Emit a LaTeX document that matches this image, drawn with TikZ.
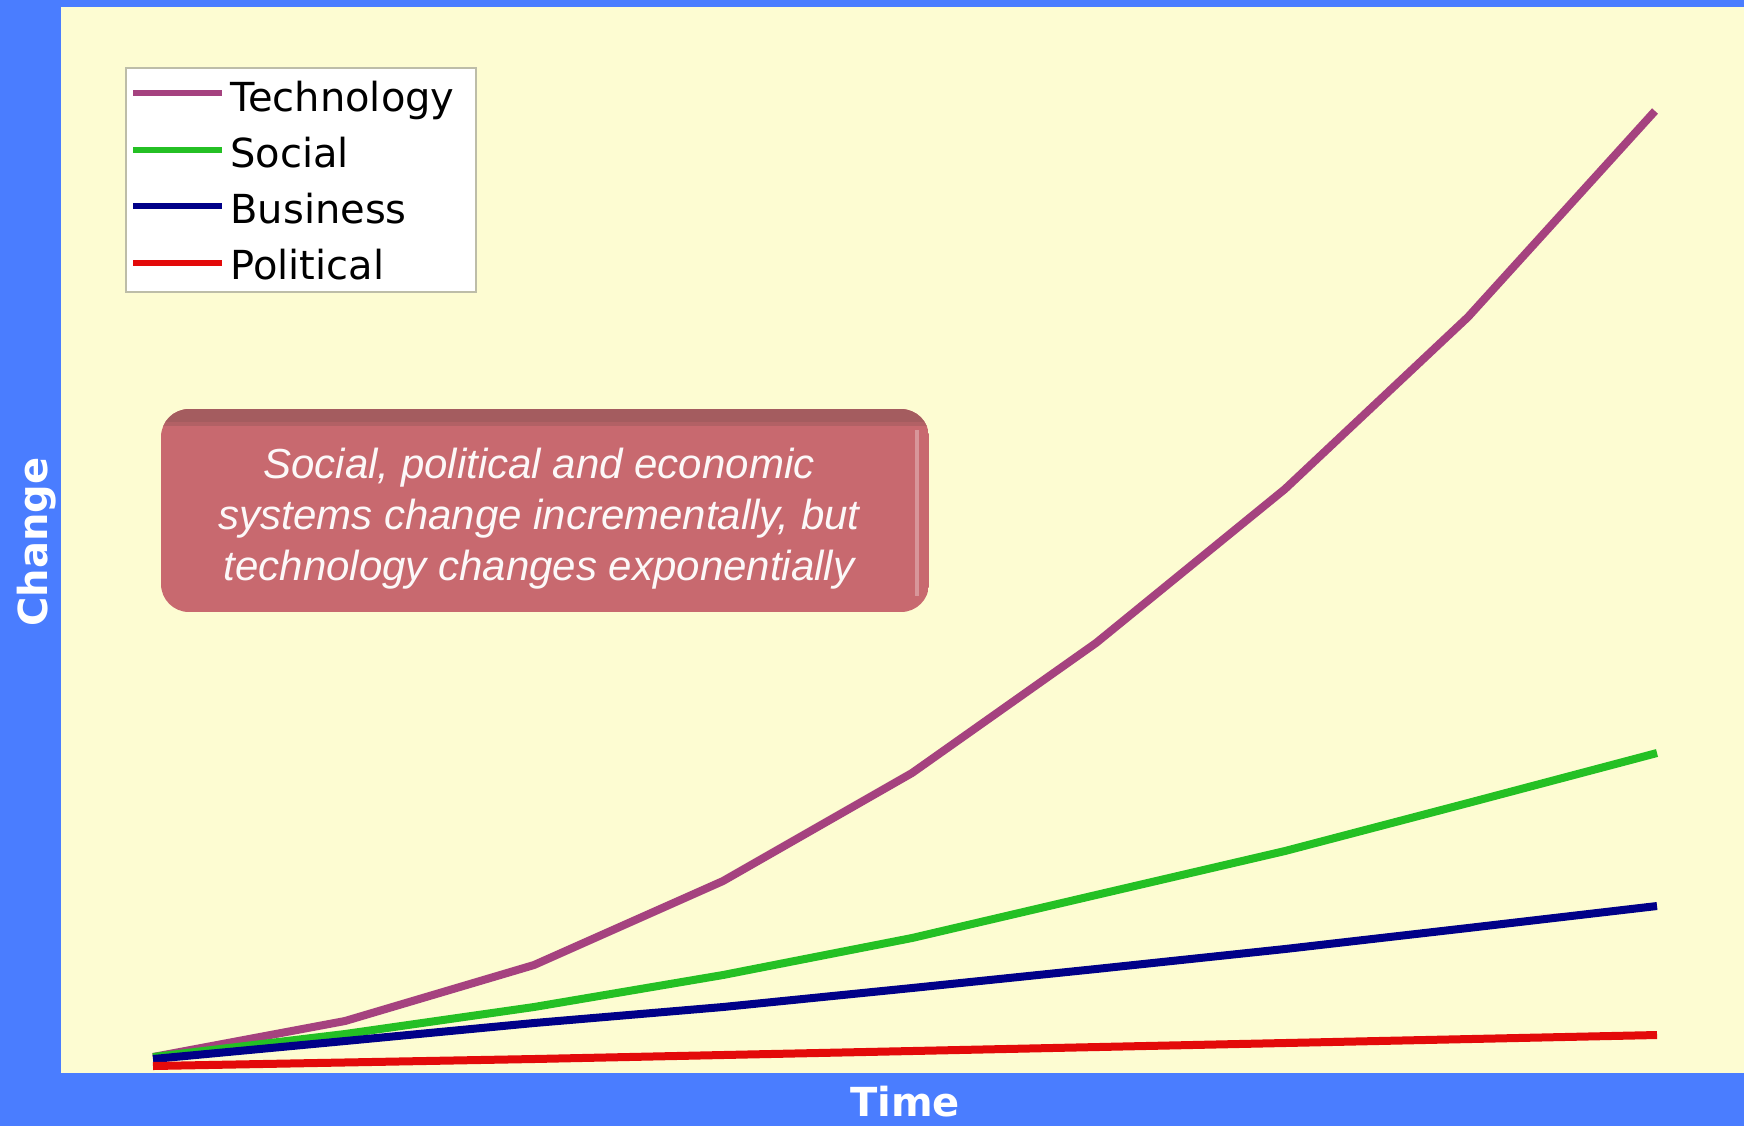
\documentclass[tikz,border=0pt]{standalone}
\usepackage{fontspec}
\setmainfont{DejaVu Sans}
\newfontfamily\calloutfont{Liberation Sans}
\definecolor{frameblue}{HTML}{4A7DFF}
\definecolor{cream}{HTML}{FDFCD2}
\definecolor{techc}{HTML}{A5427F}
\definecolor{socc}{HTML}{24C024}
\definecolor{busc}{HTML}{000088}
\definecolor{polc}{HTML}{E30A0A}
\definecolor{callfill}{HTML}{C8696F}
\definecolor{calltop}{HTML}{A45C5F}
\definecolor{legborder}{HTML}{BDBDA8}
\tikzset{
  series/.style={line width=4pt, line join=round},
  legline/.style={line width=3.4pt},
  legtext/.style={anchor=base west, inner sep=0pt, font=\fontsize{20}{24}\selectfont},
  axislabel/.style={text=white, inner sep=0pt, font=\bfseries\fontsize{20}{24}\selectfont}
}
\begin{document}
\begin{tikzpicture}[x=0.5pt,y=-0.5pt]
\useasboundingbox (0,0) rectangle (1744,1126);
% frame and plot area
\fill[frameblue] (0,0) rectangle (1744,1126);
\fill[cream] (61,7) rectangle (1744,1073);
% series
\coordinate (o) at (153,1057);
\draw[series, techc] (o) -- (345,1021) -- (534,965) -- (723,881) -- (912,773) -- (1096,643) -- (1285,489) -- (1468,317) -- (1655,111);
\draw[series, socc] (o) -- (345,1034) -- (534,1007) -- (723,975) -- (912,938) -- (1096,895) -- (1285,851) -- (1468,803) -- (1657,753);
\draw[series, busc] (153,1059) -- (345,1041) -- (534,1023) -- (723,1007) -- (912,988) -- (1096,969) -- (1285,949) -- (1468,928) -- (1657,906);
\draw[series, polc] (153,1066) -- (534,1059) -- (912,1051) -- (1285,1043) -- (1657,1035);
% legend
\node[draw=legborder, line width=1pt, fill=white, minimum width=175pt, minimum height=112pt, anchor=north west, inner sep=0pt] (legend) at (125,67) {};
\draw[legline, techc] (133,93) -- (222,93);
\draw[legline, socc] (133,150) -- (222,150);
\draw[legline, busc] (133,206) -- (222,206);
\draw[legline, polc] (133,263) -- (222,263);
\node[legtext] (lt) at (230,111) {Technology};
\node[legtext] (ls) at (230,167) {Social};
\node[legtext] (lb) at (230,223) {Business};
\node[legtext] (lp) at (230,279) {Political};
% callout
\begin{scope}
\path[clip, rounded corners=14pt] (161,409) rectangle (929,612);
\fill[callfill] (161,409) rectangle (929,612);
\fill[calltop] (161,409) rectangle (929,422);
\fill[calltop!60!callfill] (161,422) rectangle (929,426);
\fill[callfill!70!white] (915,430) rectangle (919,596);
\end{scope}
\node[text=white!95!callfill, align=center, inner sep=0pt,
  font=\calloutfont\itshape\fontsize{21}{25.5}\selectfont] (callout) at (539,519)
  {Social, political and economic\\systems change incrementally, but\\technology changes exponentially};
% axis labels
\node[axislabel, anchor=base] (time) at (905,1116) {Time};
\node[axislabel, rotate=90] (change) at (37,542) {Change};
\end{tikzpicture}
\end{document}
